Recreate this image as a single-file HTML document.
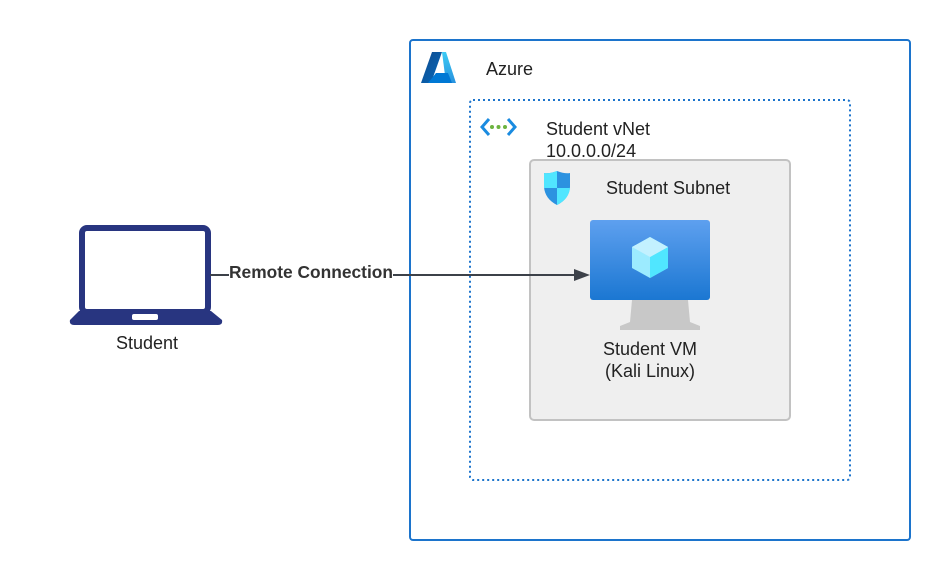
<!DOCTYPE html>
<html><head><meta charset="utf-8"><style>
body{margin:0;background:#fff}
svg{display:block;font-family:"Liberation Sans",Arial,sans-serif}
</style></head><body>
<svg width="950" height="580" viewBox="0 0 950 580" xmlns="http://www.w3.org/2000/svg">
<defs>
<linearGradient id="mon" x1="0" y1="0" x2="0" y2="1"><stop offset="0" stop-color="#5ea0ef"/><stop offset="1" stop-color="#1b77d2"/></linearGradient>
<linearGradient id="az" x1="0" y1="0" x2="1" y2="1"><stop offset="0" stop-color="#114a8b"/><stop offset="1" stop-color="#0669bc"/></linearGradient>
<linearGradient id="az2" x1="0" y1="0" x2="0" y2="1"><stop offset="0" stop-color="#3ccbf4"/><stop offset="1" stop-color="#2892df"/></linearGradient>
</defs>
<rect x="0" y="0" width="950" height="580" fill="#fff"/>
<rect x="410" y="40" width="500" height="500" rx="3" fill="none" stroke="#1c74cc" stroke-width="2"/>
<path d="M432 52 L442 52 L431 83 L421 83 Z" fill="url(#az)"/>
<path d="M442 52 L446 52 L456 83 L446 83 Z" fill="url(#az2)"/>
<path d="M436 73 L448 73 L452 83 L428 83 Z" fill="#0078d4"/>
<text x="486" y="75" font-size="18" fill="#222">Azure</text>
<rect x="470" y="100" width="380" height="380" rx="3" fill="none" stroke="#1c74cc" stroke-width="2" stroke-dasharray="2 3"/>
<path d="M489 119 L482 127 L489 135" fill="none" stroke="#1a8be0" stroke-width="3"/>
<path d="M508 119 L515 127 L508 135" fill="none" stroke="#1a8be0" stroke-width="3"/>
<circle cx="492" cy="127" r="2" fill="#6cb33f"/><circle cx="498.5" cy="127" r="2" fill="#6cb33f"/><circle cx="505" cy="127" r="2" fill="#6cb33f"/>
<text x="546" y="135" font-size="18" fill="#222">Student vNet</text>
<text x="546" y="157" font-size="18" fill="#222">10.0.0.0/24</text>
<rect x="530" y="160" width="260" height="260" rx="4" fill="#efefef" stroke="#c2c2c2" stroke-width="2"/>
<path d="M557 171 Q549 174 544 173 L544 187 Q545 199 557 205 Q569 199 570 187 L570 173 Q565 174 557 171 Z" fill="#2c92e0"/>
<path d="M557 171 L557 188 L544 188 L544 173 Q549 174 557 171 Z" fill="#50e6ff"/>
<path d="M557 188 L570 188 Q569 199 557 205 Z" fill="#50e6ff"/>
<text x="606" y="194" font-size="18" fill="#222">Student Subnet</text>
<path d="M632 300 L688 300 L690 322 L700 326 L700 330 L620 330 L620 326 L630 322 Z" fill="#c8c8c8"/>
<rect x="590" y="220" width="120" height="80" rx="3" fill="url(#mon)"/>
<path d="M650 237 L668 247 L668 268 L650 278 L632 268 L632 247 Z" fill="#9cebff"/>
<path d="M650 257 L668 247 L668 268 L650 278 Z" fill="#50e6ff"/>
<path d="M632 247 L650 237 L668 247 L650 257 Z" fill="#c3f1ff"/>
<text x="650" y="355" font-size="18" fill="#222" text-anchor="middle">Student VM</text>
<text x="650" y="377" font-size="18" fill="#222" text-anchor="middle">(Kali Linux)</text>
<rect x="82" y="228" width="126" height="84" rx="5" fill="#fff" stroke="#283580" stroke-width="6"/>
<path d="M79 311 L211 311 L222 320 Q223 325 218 325 L74 325 Q69 325 70 320 Z" fill="#283580"/>
<rect x="132" y="314" width="26" height="6" rx="2" fill="#fff"/>
<text x="147" y="349" font-size="18" fill="#222" text-anchor="middle">Student</text>
<line x1="210" y1="275" x2="578" y2="275" stroke="#3c4149" stroke-width="2"/>
<path d="M590 275 L574 269 L574 281 Z" fill="#3c4149"/>
<rect x="229" y="263" width="164" height="20" fill="#fff"/>
<text x="311" y="278" font-size="17.5" font-weight="bold" fill="#333" text-anchor="middle" textLength="164" lengthAdjust="spacingAndGlyphs">Remote Connection</text>
</svg>
</body></html>
